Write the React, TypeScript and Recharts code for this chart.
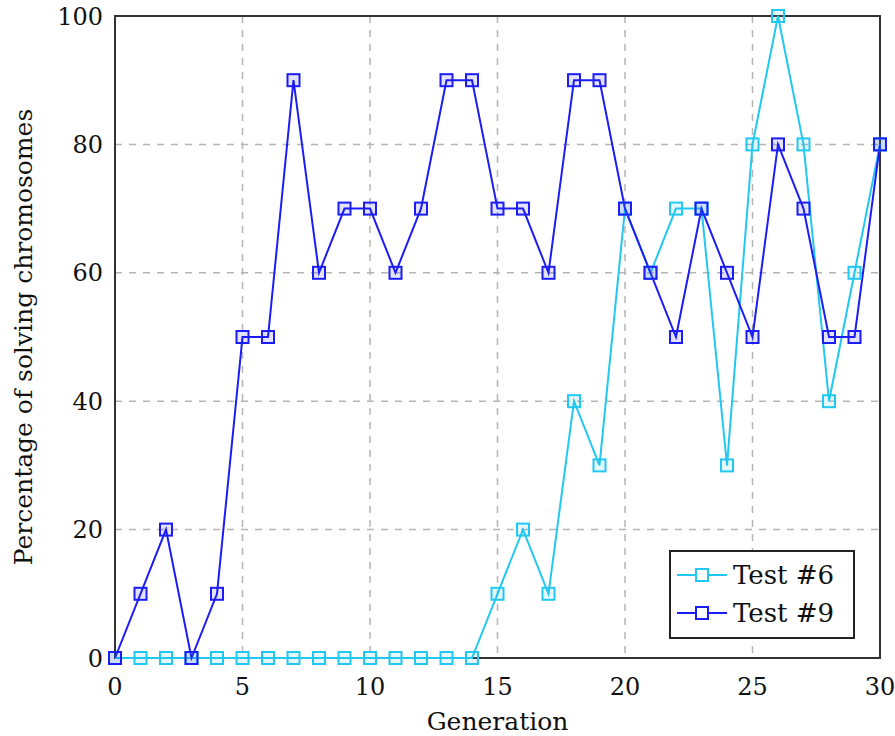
import { ComposedChart, Line, XAxis, YAxis, CartesianGrid, ReferenceArea } from "recharts";

const generations = [0, 1, 2, 3, 4, 5, 6, 7, 8, 9, 10, 11, 12, 13, 14, 15, 16, 17, 18, 19, 20, 21, 22, 23, 24, 25, 26, 27, 28, 29, 30];
const test6 = [0, 0, 0, 0, 0, 0, 0, 0, 0, 0, 0, 0, 0, 0, 0, 10, 20, 10, 40, 30, 70, 60, 70, 70, 30, 80, 100, 80, 40, 60, 80];
const test9 = [0, 10, 20, 0, 10, 50, 50, 90, 60, 70, 70, 60, 70, 90, 90, 70, 70, 60, 90, 90, 70, 60, 50, 70, 60, 50, 80, 70, 50, 50, 80];
const xTicks = [0, 5, 10, 15, 20, 25, 30];
const yTicks = [0, 20, 40, 60, 80, 100];

const CYAN = "#22c8f0";
const BLUE = "#1c1cf5";
const FONT = "'DejaVu Serif', 'Liberation Serif', serif";

const data = generations.map((g, i) => ({ gen: g, t6: test6[i], t9: test9[i] }));

const squareDot = (color: string) => (props: any) => {
  const { cx, cy, index } = props;
  if (cx == null || cy == null) return <g key={index} />;
  return (
    <rect
      key={index}
      x={cx - 6}
      y={cy - 6}
      width={12}
      height={12}
      fill={color}
      fillOpacity={0.12}
      stroke={color}
      strokeWidth={2}
    />
  );
};

const LegendBox = () => (
  <div
    style={{
      position: "absolute",
      left: 669,
      top: 550,
      width: 186,
      height: 89,
      boxSizing: "border-box",
      border: "2px solid #222",
      background: "#fff",
      padding: "4px 6px",
      fontFamily: FONT,
      fontSize: 26,
      lineHeight: "38px",
      color: "#111",
    }}
  >
    {[
      { name: "Test #6", color: CYAN },
      { name: "Test #9", color: BLUE },
    ].map((s) => (
      <div key={s.name} style={{ display: "flex", alignItems: "center", gap: 6, whiteSpace: "nowrap" }}>
        <svg width={50} height={16}>
          <line x1={0} y1={8} x2={50} y2={8} stroke={s.color} strokeWidth={2} />
          <rect x={19} y={2} width={12} height={12} fill="#fff" stroke={s.color} strokeWidth={2} />
        </svg>
        <span>{s.name}</span>
      </div>
    ))}
  </div>
);

export default function App() {
  return (
    <div style={{ position: "absolute", left: 0, top: 0, width: 895, height: 736, background: "#fff" }}>
      <ComposedChart width={895} height={736} data={data} margin={{ top: 16, right: 15, left: 75, bottom: 48 }}>
        <CartesianGrid stroke="#b5b5b5" strokeDasharray="7 7" strokeWidth={1.5} />
        <XAxis
          dataKey="gen"
          type="number"
          domain={[0, 30]}
          ticks={xTicks}
          tickLine={false}
          axisLine={false}
          tickMargin={14}
          height={30}
          tick={{ fontFamily: FONT, fontSize: 24, fill: "#111" }}
          label={{ value: "Generation", position: "insideBottom", offset: -42, fontFamily: FONT, fontSize: 25, fill: "#111" }}
        />
        <YAxis
          type="number"
          domain={[0, 100]}
          ticks={yTicks}
          tickLine={false}
          axisLine={false}
          tickMargin={6}
          width={40}
          tick={{ fontFamily: FONT, fontSize: 24, fill: "#111" }}
          label={{
            value: "Percentage of solving chromosomes",
            angle: -90,
            position: "insideLeft",
            offset: -52,
            style: { textAnchor: "middle" },
            fontFamily: FONT,
            fontSize: 25,
            fill: "#111",
          }}
        />
        <ReferenceArea x1={0} x2={30} y1={0} y2={100} fill="none" stroke="#333" strokeWidth={2} />
        <Line
          dataKey="t6"
          name="Test #6"
          stroke={CYAN}
          strokeWidth={2}
          type="linear"
          dot={squareDot(CYAN)}
          isAnimationActive={false}
        />
        <Line
          dataKey="t9"
          name="Test #9"
          stroke={BLUE}
          strokeWidth={2}
          type="linear"
          dot={squareDot(BLUE)}
          isAnimationActive={false}
        />
      </ComposedChart>
      <LegendBox />
    </div>
  );
}
